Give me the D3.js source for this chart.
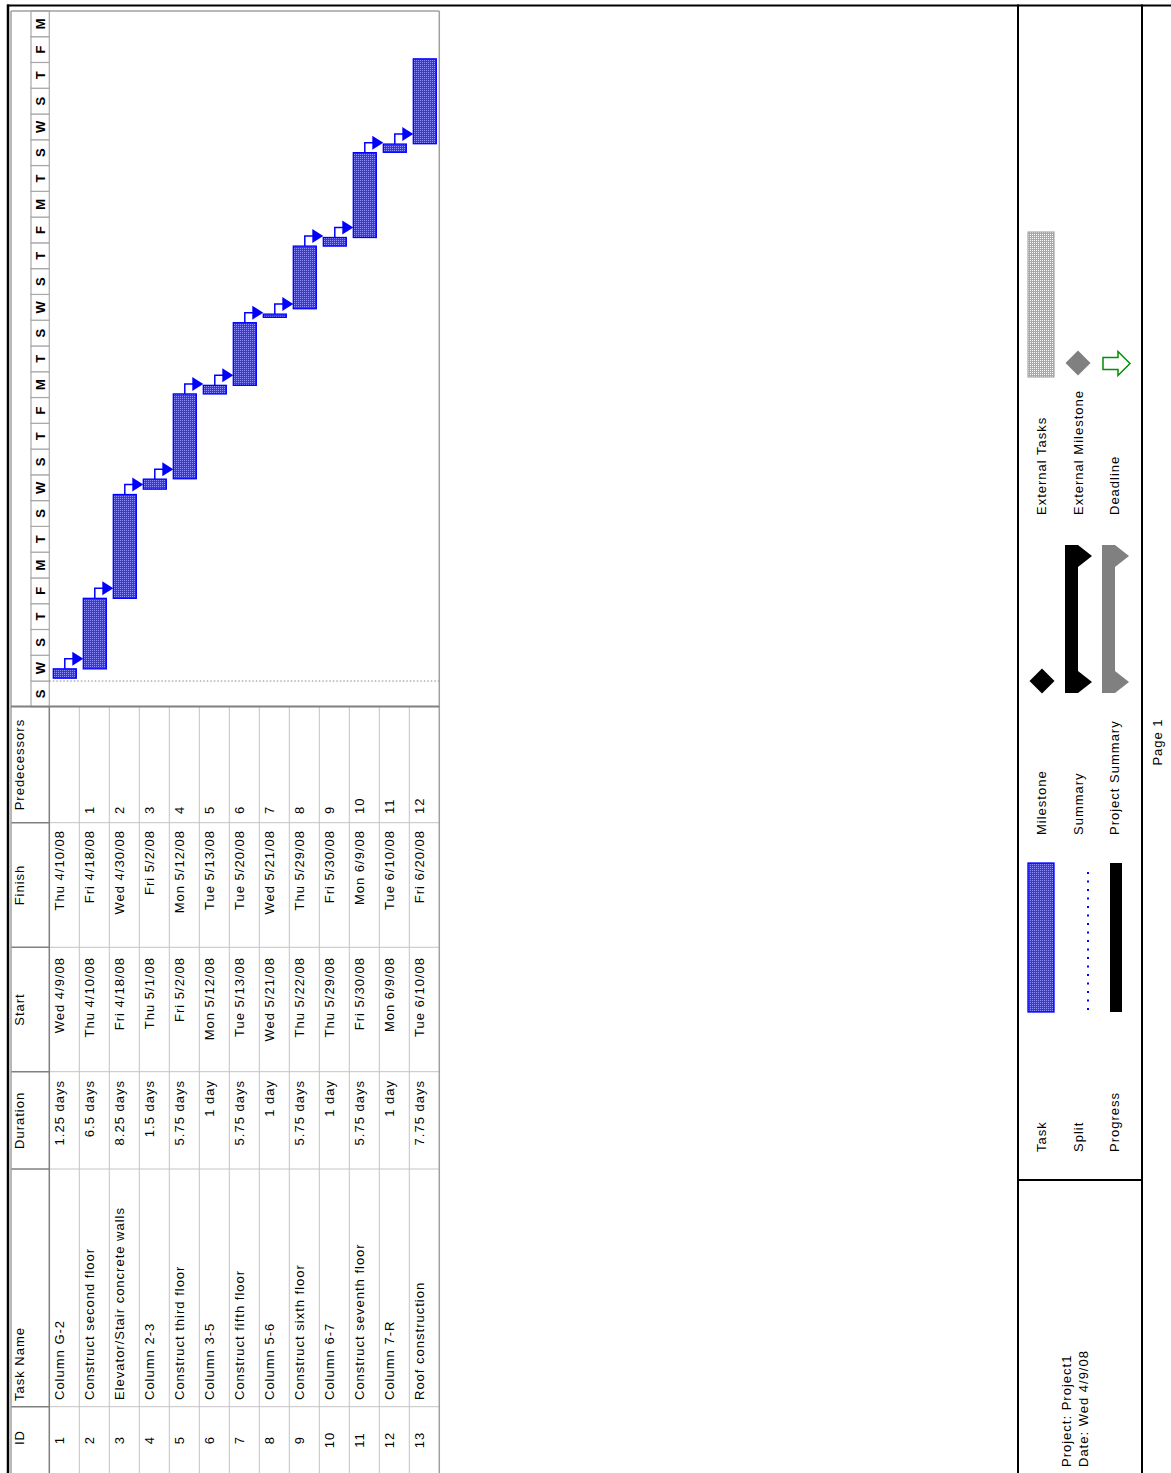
<!DOCTYPE html>
<html>
<head>
<meta charset="utf-8">
<script src="https://cdn.jsdelivr.net/npm/d3@7"></script>
<style>
  html, body { margin: 0; padding: 0; background: #fff; }
  svg { display: block; }
  text { font-family: "Liberation Sans", Arial, sans-serif; fill: #000; }
</style>
</head>
<body>
<svg id="chart" width="1171" height="1473"></svg>
<script>
// ---------------- DATA ----------------
const taskIds = [1, 2, 3, 4, 5, 6, 7, 8, 9, 10, 11, 12, 13];
const taskNames = [
  "Column G-2", "Construct second floor", "Elevator/Stair concrete walls", "Column 2-3",
  "Construct third floor", "Column 3-5", "Construct fifth floor", "Column 5-6",
  "Construct sixth floor", "Column 6-7", "Construct seventh floor", "Column 7-R",
  "Roof construction"
];
const durations = ["1.25 days", "6.5 days", "8.25 days", "1.5 days", "5.75 days", "1 day",
  "5.75 days", "1 day", "5.75 days", "1 day", "5.75 days", "1 day", "7.75 days"];
const startLabels = ["Wed 4/9/08", "Thu 4/10/08", "Fri 4/18/08", "Thu 5/1/08", "Fri 5/2/08",
  "Mon 5/12/08", "Tue 5/13/08", "Wed 5/21/08", "Thu 5/22/08", "Thu 5/29/08", "Fri 5/30/08",
  "Mon 6/9/08", "Tue 6/10/08"];
const finishLabels = ["Thu 4/10/08", "Fri 4/18/08", "Wed 4/30/08", "Fri 5/2/08", "Mon 5/12/08",
  "Tue 5/13/08", "Tue 5/20/08", "Wed 5/21/08", "Thu 5/29/08", "Fri 5/30/08", "Mon 6/9/08",
  "Tue 6/10/08", "Fri 6/20/08"];
const predecessors = ["", "1", "2", "3", "4", "5", "6", "7", "8", "9", "10", "11", "12"];
const barStarts = ["2008-04-09T08:00", "2008-04-10T10:00", "2008-04-18T15:00", "2008-05-01T08:00",
  "2008-05-02T13:00", "2008-05-12T10:00", "2008-05-13T10:00", "2008-05-21T08:00",
  "2008-05-22T08:00", "2008-05-29T15:00", "2008-05-30T15:00", "2008-06-09T13:00",
  "2008-06-10T13:00"];
const barFinishes = ["2008-04-10T10:00", "2008-04-18T15:00", "2008-04-30T17:00", "2008-05-02T12:00",
  "2008-05-12T10:00", "2008-05-13T10:00", "2008-05-20T17:00", "2008-05-21T17:00",
  "2008-05-29T15:00", "2008-05-30T15:00", "2008-06-09T12:00", "2008-06-10T12:00",
  "2008-06-20T10:00"];
const columnHeaders = ["ID", "Task Name", "Duration", "Start", "Finish", "Predecessors"];
const timescaleStart = "2008-04-06T00:00";
const timescaleEnd = "2008-06-26T00:00";
const projectStart = "2008-04-09T00:00";
const tickLetters = ["S","W","S","T","F","M","T","S","W","S","T","F","M","T","S","W","S","T","F","M","T","S","W","S","T","F","M"];
const legendLeft = ["Task", "Split", "Progress"];
const legendMid = ["Milestone", "Summary", "Project Summary"];
const legendRight = ["External Tasks", "External Milestone", "Deadline"];
const footerLines = ["Project: Project1", "Date: Wed 4/9/08"];
const pageLabel = "Page 1";

// ---------------- SETUP ----------------
const W = 1171, H = 1473;
const parse = d3.timeParse("%Y-%m-%dT%H:%M");
const svg = d3.select("#chart");

const defs = svg.append("defs");
const pt = defs.append("pattern").attr("id", "taskPat").attr("patternUnits", "userSpaceOnUse")
  .attr("width", 2).attr("height", 2);
pt.append("rect").attr("width", 2).attr("height", 2).attr("fill", "#3333ff").attr("shape-rendering", "crispEdges");
pt.append("rect").attr("width", 1).attr("height", 1).attr("fill", "#9090ff").attr("shape-rendering", "crispEdges");
const pg = defs.append("pattern").attr("id", "extPat").attr("patternUnits", "userSpaceOnUse")
  .attr("width", 2).attr("height", 2);
pg.append("rect").attr("width", 2).attr("height", 2).attr("fill", "#a8a8a8").attr("shape-rendering", "crispEdges");
pg.append("rect").attr("width", 1).attr("height", 1).attr("fill", "#ffffff").attr("shape-rendering", "crispEdges");

// page is printed in landscape and rotated: local (u,v) -> screen (v, H-u)
const g = svg.append("g").attr("transform", `translate(0,${H}) rotate(-90)`);

const FONT = 13;
function txt(sel, x, y, s, anchor, extra) {
  const t = sel.append("text").attr("x", x).attr("y", y).text(s)
    .attr("font-size", FONT).attr("letter-spacing", "1px")
    .attr("text-anchor", anchor || "start");
  if (extra) extra(t);
  return t;
}
function line(x1, y1, x2, y2, color, w, dash) {
  const l = g.append("line").attr("x1", x1).attr("y1", y1).attr("x2", x2).attr("y2", y2)
    .attr("stroke", color).attr("stroke-width", w);
  if (dash) l.attr("stroke-dasharray", dash);
  return l;
}

// scales
const x = d3.scaleTime().domain([parse(timescaleStart), parse(timescaleEnd)]).range([766.2, 1462.1]);
const y = d3.scaleBand().domain(taskIds).range([49.3, 439.3]).padding(0);

// table column edges (local x)
const colEdges = [-20, 66.3, 304, 401.3, 525.7, 650.3, 766.5];

// ---------------- TABLE ----------------
taskIds.forEach((id, i) => {
  if (i > 0) line(0, y(id), 766, y(id), "#c4c4c4", 1);
});
colEdges.slice(1, 6).forEach(cx => {
  line(cx, 11, cx, 49.3, "#808080", 1.5);
  line(cx, 49.3, cx, 439.3, "#c4c4c4", 1);
});
line(0, 49.3, 766, 49.3, "#808080", 1.5);

const headY = 24;
txt(g, 28, headY, columnHeaders[0]);
txt(g, 72, headY, columnHeaders[1]);
txt(g, (colEdges[2] + colEdges[3]) / 2, headY, columnHeaders[2], "middle");
txt(g, (colEdges[3] + colEdges[4]) / 2, headY, columnHeaders[3], "middle");
txt(g, (colEdges[4] + colEdges[5]) / 2, headY, columnHeaders[4], "middle");
txt(g, (colEdges[5] + colEdges[6]) / 2, headY, columnHeaders[5], "middle");

taskIds.forEach((id, i) => {
  const by = y(id) + 14.5;
  txt(g, 33, by, String(id), "middle");
  txt(g, 73, by, taskNames[i]);
  txt(g, 393, by, durations[i], "end");
  txt(g, 516, by, startLabels[i], "end");
  txt(g, 643, by, finishLabels[i], "end");
  txt(g, 659, by, predecessors[i]);
});

// ---------------- TIMESCALE ----------------
const tickDates = d3.range(tickLetters.length).map(k => d3.timeDay.offset(parse(timescaleStart), 3 * k));
const ts = g.append("g");
tickDates.forEach((d, k) => {
  const x0 = x(d), x1 = Math.min(x(d3.timeDay.offset(d, 3)), 1462.1);
  ts.append("rect").attr("x", x0).attr("y", 31).attr("width", x1 - x0).attr("height", 18.3)
    .attr("fill", "#fff").attr("stroke", "#a8a8a8").attr("stroke-width", 1.2);
  ts.append("text").attr("x", (x0 + x1) / 2).attr("y", 45).attr("text-anchor", "middle")
    .attr("font-size", 13).attr("font-weight", "bold").text(tickLetters[k]);
});

line(x(parse(projectStart)), 49.3, x(parse(projectStart)), 439, "#888", 1, "1.5,2");

// ---------------- BARS & LINKS ----------------
const barOff = 4, barH = 23;
const bars = g.append("g");
taskIds.forEach((id, i) => {
  const s = x(parse(barStarts[i])), f = x(parse(barFinishes[i]));
  bars.append("rect").attr("x", s).attr("y", y(id) + barOff).attr("width", Math.max(f - s, 1))
    .attr("height", barH).attr("fill", "url(#taskPat)").attr("stroke", "#0000ff").attr("stroke-width", 1.3);
});
taskIds.forEach((id, i) => {
  if (i === taskIds.length - 1) return;
  const f = x(parse(barFinishes[i]));
  const midY = y(id) + barOff + barH / 2;
  const ax = f + 10;
  const tipY = y(taskIds[i + 1]) + barOff;
  bars.append("path")
    .attr("d", `M${f},${midY} H${ax} V${tipY - 10}`)
    .attr("fill", "none").attr("stroke", "#0000ff").attr("stroke-width", 1.5);
  bars.append("path")
    .attr("d", `M${ax - 7},${tipY - 11} L${ax + 7},${tipY - 11} L${ax},${tipY} Z`)
    .attr("fill", "#0000ff");
});

// ---------------- FRAMES ----------------
line(0, 11, 1462, 11, "#a0a0a0", 1.5);
line(1462, 11, 1462, 439.3, "#a0a0a0", 1.5);
line(0, 439.3, 1462, 439.3, "#a0a0a0", 1.5);
line(766.5, 11, 766.5, 439.3, "#808080", 2);
line(1467.5, 7, 1467.5, W, "#000", 2);
line(0, 8, 1468.5, 8, "#000", 2.5);
line(0, 1018, 1468.5, 1018, "#000", 2);
line(0, 1142, 1468.5, 1142, "#000", 2);
line(293, 1018, 293, 1142, "#000", 2);

// ---------------- LEGEND ----------------
const lg = g.append("g");
const rowsY = [1045.5, 1082.5, 1118.5];
legendLeft.forEach((s, k) => txt(lg, 321, rowsY[k], s));
legendMid.forEach((s, k) => txt(lg, 638, rowsY[k], s));
legendRight.forEach((s, k) => txt(lg, 958, rowsY[k], s));

lg.append("rect").attr("x", 461).attr("y", 1028).attr("width", 149).attr("height", 26)
  .attr("fill", "url(#taskPat)").attr("stroke", "#0000ff").attr("stroke-width", 1.3);
lg.append("line").attr("x1", 463).attr("x2", 607).attr("y1", 1088).attr("y2", 1088)
  .attr("stroke", "#0000ff").attr("stroke-width", 2).attr("stroke-dasharray", "2,6.5");
lg.append("rect").attr("x", 461).attr("y", 1110).attr("width", 149).attr("height", 12).attr("fill", "#000");
function diamond(cx, cy, r, fill) {
  lg.append("path").attr("d", `M${cx - r},${cy} L${cx},${cy - r} L${cx + r},${cy} L${cx},${cy + r} Z`).attr("fill", fill);
}
diamond(792, 1042, 12.5, "#000");
function summaryBar(x0, x1, y0, fill) {
  const cap = 22, barT = 13, tot = 27;
  lg.append("rect").attr("x", x0).attr("y", y0).attr("width", x1 - x0).attr("height", barT).attr("fill", fill);
  [x0, x1 - cap].forEach(cx => {
    lg.append("path").attr("d",
      `M${cx},${y0} H${cx + cap} V${y0 + barT} L${cx + cap / 2},${y0 + tot} L${cx},${y0 + barT} Z`)
      .attr("fill", fill);
  });
}
summaryBar(780, 928, 1065, "#000");
summaryBar(780, 928, 1102, "#808080");
lg.append("rect").attr("x", 1096).attr("y", 1028).attr("width", 145).attr("height", 26)
  .attr("fill", "url(#extPat)").attr("stroke", "#a8a8a8").attr("stroke-width", 1.2);
diamond(1110, 1078, 12.5, "#808080");
lg.append("path").attr("d",
  "M1103.5,1103 H1115.5 V1118 H1121.5 L1109.5,1130 L1097.5,1118 H1103.5 Z")
  .attr("fill", "#fff").attr("stroke", "#009000").attr("stroke-width", 1.5);

// ---------------- FOOTER ----------------
txt(g, 6, 1071, footerLines[0]);
txt(g, 6, 1088, footerLines[1]);
txt(g, 731, 1162, pageLabel, "middle");
</script>
</body>
</html>
